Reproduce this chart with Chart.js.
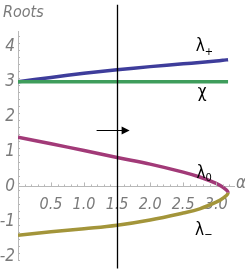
<!DOCTYPE html>
<html>
<head>
<meta charset="utf-8">
<script src="https://cdn.jsdelivr.net/npm/chart.js@4/dist/chart.umd.min.js"></script>
<style>
  html, body { margin: 0; padding: 0; background: #ffffff; }
</style>
</head>
<body>
<canvas id="rootsChart" width="245" height="273"></canvas>
<script>
const alphaValues = [0, 0.5, 1.0, 1.5, 2.0, 2.5, 2.75, 3.0, 3.1, 3.18];
// root branches
const lambdaPlus  = [3.0, 3.12, 3.24, 3.34, 3.43, 3.51, 3.55, 3.59, 3.61, 3.63];
const chiValues   = [3, 3, 3, 3, 3, 3, 3, 3, 3, 3];
const lambdaZero  = [1.41, 1.22, 1.03, 0.83, 0.64, 0.41, 0.27, 0.09, -0.02, -0.18];
const lambdaMinus = [-1.40, -1.30, -1.21, -1.11, -0.96, -0.76, -0.64, -0.45, -0.34, -0.18];
// ticks
const xTickLabels = ['0.5', '1.0', '1.5', '2.0', '2.5', '3.0'];
const yTickLabels = ['-2', '-1', '0', '1', '2', '3', '4'];
// marker line and arrow
const markerAlpha = 1.5;
const arrowFrom = [1.19, 1.61];
const arrowTo = [1.69, 1.61];

const tickFont = '"Liberation Sans Narrow", "DejaVu Sans Condensed", "Liberation Sans", sans-serif';
const grayText = '#7a7a7a';
const axisGray = '#b8b8b8';

const toPoints = (xs, ys) => xs.map((x, i) => ({ x: x, y: ys[i] }));

// λ0 runs out to the fold, λ- comes back from it -> one smooth curve, two colours
const foldCurve = toPoints(alphaValues, lambdaZero).concat(
    toPoints(alphaValues, lambdaMinus).reverse().slice(1)
);
const foldIndex = alphaValues.length - 1;

const decorations = {
    id: 'decorations',
    afterDraw(chart) {
        const c = chart.ctx;
        const xs = chart.scales.x, ys = chart.scales.y;
        const x0 = xs.getPixelForValue(0), y0 = ys.getPixelForValue(0);
        c.save();

        // minor/major ticks pointing into the plot
        c.strokeStyle = axisGray;
        c.lineWidth = 1;
        for (let i = 1; i <= 32; i++) {
            const px = Math.round(xs.getPixelForValue(i / 10)) + 0.5;
            const len = i % 5 === 0 ? 4 : 2;
            c.beginPath(); c.moveTo(px, y0); c.lineTo(px, y0 - len); c.stroke();
        }
        for (let v = -21; v <= 44; v += 2) {
            const py = Math.round(ys.getPixelForValue(v / 10)) + 0.5;
            const len = v % 10 === 0 ? 4 : 2;
            c.beginPath(); c.moveTo(x0, py); c.lineTo(x0 + len, py); c.stroke();
        }

        // vertical marker at α = 1.5
        const mx = Math.round(xs.getPixelForValue(markerAlpha)) + 0.5;
        c.strokeStyle = '#000';
        c.lineWidth = 1.3;
        c.beginPath();
        c.moveTo(mx, ys.getPixelForValue(5.2));
        c.lineTo(mx, ys.getPixelForValue(-2.35));
        c.stroke();

        // arrow
        const ax1 = xs.getPixelForValue(arrowFrom[0]), ay = Math.round(ys.getPixelForValue(arrowFrom[1])) + 0.5;
        const ax2 = xs.getPixelForValue(arrowTo[0]);
        c.lineWidth = 1;
        c.beginPath(); c.moveTo(ax1, ay); c.lineTo(ax2 - 5, ay); c.stroke();
        c.fillStyle = '#000';
        c.beginPath();
        c.moveTo(ax2, ay); c.lineTo(ax2 - 8, ay - 4); c.lineTo(ax2 - 8, ay + 4); c.closePath(); c.fill();

        // axis titles
        c.fillStyle = grayText;
        c.font = 'italic 16px ' + tickFont;
        c.textAlign = 'left'; c.textBaseline = 'middle';
        c.fillText('Roots', 3, 13);
        c.font = 'italic 17px ' + tickFont;
        c.fillText('α', 236, y0 - 3);

        // curve labels
        const label = (main, sub, a, v) => {
            const px = xs.getPixelForValue(a), py = ys.getPixelForValue(v);
            c.fillStyle = '#000';
            c.font = '17px ' + tickFont;
            c.textAlign = 'left'; c.textBaseline = 'middle';
            const w = c.measureText(main).width;
            c.fillText(main, px - w / 2 - 2, py);
            if (sub) {
                c.font = '11px ' + tickFont;
                c.fillText(sub, px + w / 2 - 2, py + 5);
            }
        };
        label('λ', '+', 2.79, 3.99);
        label('χ', '', 2.82, 2.69);
        label('λ', '0', 2.80, 0.37);
        label('λ', '−', 2.78, -1.25);

        c.restore();
    }
};

const ctx = document.getElementById('rootsChart').getContext('2d');
const rootsChart = new Chart(ctx, {
    type: 'scatter',
    data: {
        datasets: [
            {
                label: 'χ',
                data: toPoints(alphaValues, chiValues),
                borderColor: '#3f9d5c',
                borderWidth: 3.5,
                showLine: true,
                pointRadius: 0
            },
            {
                label: 'λ+',
                data: toPoints(alphaValues, lambdaPlus),
                borderColor: '#3e3d9b',
                borderWidth: 3.5,
                showLine: true,
                pointRadius: 0,
                tension: 0.3
            },
            {
                label: 'λ0 / λ-',
                data: foldCurve,
                borderColor: '#a23a78',
                borderWidth: 3.5,
                showLine: true,
                pointRadius: 0,
                tension: 0.4,
                segment: {
                    borderColor: s => s.p0DataIndex < foldIndex ? '#a23a78' : '#a3953a'
                }
            }
        ]
    },
    options: {
        responsive: false,
        animation: false,
        devicePixelRatio: 1,
        layout: { padding: { top: 31, right: 11, bottom: 11, left: 0 } },
        plugins: {
            legend: { display: false },
            tooltip: { enabled: false }
        },
        scales: {
            x: {
                type: 'linear',
                min: 0,
                max: 3.27,
                position: { y: 0 },
                border: { color: axisGray },
                grid: { display: false, drawTicks: false },
                ticks: {
                    stepSize: 0.5,
                    includeBounds: false,
                    padding: 9,
                    maxRotation: 0,
                    color: grayText,
                    font: { family: tickFont, size: 16, style: 'italic' },
                    callback: v => xTickLabels.find(t => Math.abs(parseFloat(t) - v) < 1e-6) || ''
                }
            },
            y: {
                type: 'linear',
                min: -2.1,
                max: 4.45,
                border: { color: axisGray },
                grid: { display: false, drawTicks: false },
                afterFit: s => { s.width = 18; },
                ticks: {
                    stepSize: 1,
                    includeBounds: false,
                    padding: 3,
                    color: grayText,
                    font: { family: tickFont, size: 17, style: 'italic' },
                    callback: v => yTickLabels.find(t => Math.abs(parseFloat(t) - v) < 1e-6) || ''
                }
            }
        }
    },
    plugins: [decorations]
});
</script>
</body>
</html>
